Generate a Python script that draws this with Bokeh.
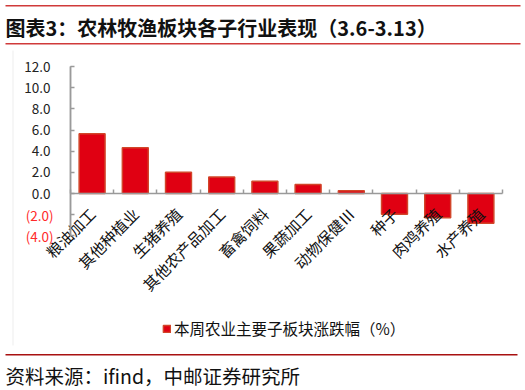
import math
from bokeh.plotting import figure
from bokeh.models import (Range1d, FixedTicker, LinearAxis, Label, BoxAnnotation,
                          Legend, LegendItem, ColumnDataSource)
from bokeh.embed import file_html
from bokeh.resources import INLINE

categories = ["粮油加工", "其他种植业", "生猪养殖", "其他农产品加工", "畜禽饲料",
              "果蔬加工", "动物保健Ⅲ", "种子", "肉鸡养殖", "水产养殖"]
changes = [5.64, 4.32, 2.01, 1.55, 1.16, 0.86, 0.25, -1.95, -2.3, -2.8]
pos_ticks = [0, 2, 4, 6, 8, 10, 12]
neg_ticks = [-4, -2]
title_text = "图表3：农林牧渔板块各子行业表现（3.6-3.13）"
legend_text = "本周农业主要子板块涨跌幅（%）"
source_text = "资料来源：ifind，中邮证券研究所"

FONT = "Noto Sans CJK SC"
W, H = 525, 390

# layout constants (canvas pixels)
PLOT_L, PLOT_R = 70, 502          # left/right edge of category band
Y_TOP_PX, Y_ZERO_PX = 66, 193     # pixel of top tick and of zero
n = len(categories)
xs = list(range(n))
ymax, ymin = max(pos_ticks), min(neg_ticks)
ppu_x = (PLOT_R - PLOT_L) / n
ppu_y = (Y_ZERO_PX - Y_TOP_PX) / ymax
x_range = Range1d(-0.5 - PLOT_L / ppu_x, n - 0.5 + (W - PLOT_R) / ppu_x)
y_range = Range1d(-(H - Y_ZERO_PX) / ppu_y, Y_ZERO_PX / ppu_y)

src = ColumnDataSource(dict(x=xs, val=changes))

p = figure(width=W, height=H, x_range=x_range, y_range=y_range,
           x_axis_location=None, y_axis_location=None,
           output_backend="svg", toolbar_location=None,
           min_border=0, min_border_left=0, min_border_right=0,
           min_border_top=0, min_border_bottom=0)
p.outline_line_color = None
p.grid.visible = False
p.background_fill_color = "white"
p.border_fill_color = "white"

r = p.vbar(x="x", top="val", width=0.6, source=src,
           fill_color="#E00012", line_color="#D2452A", line_width=1.5)

AX = "#9A9A9A"

# y axis (positive labels, black)
ya = LinearAxis(fixed_location=-0.5, bounds=(ymin, ymax),
                ticker=FixedTicker(ticks=pos_ticks),
                major_label_overrides={t: f"{t:.1f}" for t in pos_ticks})
# y axis (negative labels, red, accounting format)
ya2 = LinearAxis(fixed_location=-0.5, bounds=(ymin, ymax),
                 ticker=FixedTicker(ticks=neg_ticks),
                 major_label_overrides={t: f"({abs(t):.1f})" for t in neg_ticks})
for a, col, so in ((ya, "#222222", 20), (ya2, "#FF2A2A", 17)):
    a.axis_line_color = AX
    a.axis_line_width = 1.5
    a.major_tick_line_color = AX
    a.major_tick_line_width = 1.5
    a.major_tick_in = 4
    a.major_tick_out = 0
    a.minor_tick_line_color = None
    a.major_label_text_font = FONT
    a.major_label_text_font_size = "13.5px"
    a.major_label_text_color = col
    a.major_label_standoff = so
p.add_layout(ya, "left")
p.add_layout(ya2, "left")

# x axis on the zero line
xa = LinearAxis(fixed_location=0, bounds=(-0.5, n - 0.5),
                ticker=FixedTicker(ticks=xs, minor_ticks=[i - 0.5 for i in range(n + 1)]),
                major_label_overrides={i: c for i, c in zip(xs, categories)})
xa.axis_line_color = AX
xa.axis_line_width = 1.5
xa.major_tick_line_color = None
xa.minor_tick_line_color = AX
xa.minor_tick_line_width = 1.5
xa.minor_tick_in = 4
xa.minor_tick_out = 0
xa.major_label_orientation = math.pi / 4
xa.major_label_text_font = FONT
xa.major_label_text_font_size = "15.5px"
xa.major_label_text_color = "#111111"
xa.major_label_standoff = 11
p.add_layout(xa, "below")

legend = Legend(items=[LegendItem(label=legend_text, renderers=[r])], location=(162, 51),
                border_line_color=None, background_fill_alpha=0, padding=0, margin=0,
                glyph_width=9, glyph_height=9, label_standoff=3, label_height=16,
                label_text_font=FONT, label_text_font_size="15.5px", label_text_color="#111111")
p.add_layout(legend, "center")


def hline(top_px, thick, color, left=5, right=520):
    p.add_layout(BoxAnnotation(left=left, right=right, top=H - top_px, bottom=H - top_px - thick,
                               left_units="screen", right_units="screen", top_units="screen",
                               bottom_units="screen", fill_color=color, fill_alpha=1,
                               line_color=None, level="overlay"))


hline(4.5, 1.5, "#D03A3A")
hline(42.5, 1.5, "#D03A3A")
hline(353.5, 1.5, "#A81010", right=517)
# faint frame edge of the chart box
p.add_layout(BoxAnnotation(left=12, right=13, top=H - 50, bottom=H - 345,
                           left_units="screen", right_units="screen", top_units="screen",
                           bottom_units="screen", fill_color="#EEEEEE", fill_alpha=1,
                           line_color=None))

p.add_layout(Label(x=5, y=H - 27, x_units="screen", y_units="screen", text=title_text,
                   text_baseline="middle", text_font=FONT, text_font_size="20px",
                   text_font_style="bold", text_color="#111111"))
p.add_layout(Label(x=5, y=H - 375, x_units="screen", y_units="screen", text=source_text,
                   text_baseline="middle", text_font=FONT, text_font_size="19.5px",
                   text_color="#111111"))

open("out.html", "w").write(file_html(p, INLINE))
